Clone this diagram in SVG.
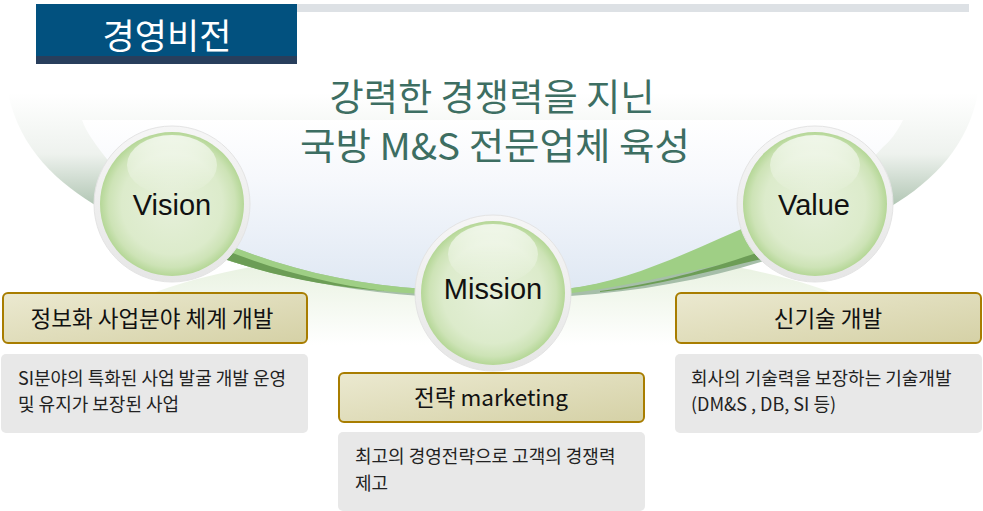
<svg xmlns="http://www.w3.org/2000/svg" width="983" height="511" viewBox="0 0 983 511">
<style>
.kr{font-family:"Noto Sans CJK KR","Noto Sans",sans-serif}
.lat{font-family:"Liberation Sans",Arial,sans-serif}
.ctitle{font-size:29px;fill:#111;text-anchor:middle}
.btitle{font-size:22.5px;fill:#111;text-anchor:middle}
.desc{font-size:18px;fill:#222}
.tbox{fill:url(#gBox);stroke:#a87d00;stroke-width:2}
.dbox{fill:#e8e8e8}
.ring{fill:url(#gRing);stroke:#e4e4e4;stroke-width:1}
.sphere{fill:url(#gSphere)}
.hl{fill:url(#gHl)}
</style>
<defs>
<linearGradient id="gOuter" x1="0" y1="93" x2="0" y2="215" gradientUnits="userSpaceOnUse">
<stop offset="0" stop-color="#ffffff"/>
<stop offset="0.5" stop-color="#eef2ee"/>
<stop offset="1" stop-color="#a6bea9"/>
</linearGradient>
<linearGradient id="gBowl" x1="0" y1="120" x2="0" y2="290" gradientUnits="userSpaceOnUse">
<stop offset="0" stop-color="#ffffff"/>
<stop offset="0.35" stop-color="#f6f8fc"/>
<stop offset="1" stop-color="#dfe8f3"/>
</linearGradient>
<linearGradient id="gGlow" x1="0" y1="250" x2="0" y2="345" gradientUnits="userSpaceOnUse">
<stop offset="0" stop-color="#e5f0dc"/>
<stop offset="1" stop-color="#ffffff"/>
</linearGradient>
<linearGradient id="gBox" x1="0" y1="0" x2="1" y2="1">
<stop offset="0" stop-color="#ebe9d0"/>
<stop offset="1" stop-color="#d5d1a6"/>
</linearGradient>
<linearGradient id="gRing" x1="0" y1="0" x2="0" y2="1">
<stop offset="0" stop-color="#f6f6f6"/>
<stop offset="1" stop-color="#e6e6e6"/>
</linearGradient>
<radialGradient id="gSphere" cx="0.5" cy="0.5" r="0.5">
<stop offset="0" stop-color="#e6f0da"/>
<stop offset="0.7" stop-color="#dcebcb"/>
<stop offset="0.88" stop-color="#cde3b6"/>
<stop offset="1" stop-color="#b5d797"/>
</radialGradient>
<linearGradient id="gHl" x1="0" y1="0" x2="0" y2="1">
<stop offset="0" stop-color="#ffffff" stop-opacity="0.75"/>
<stop offset="1" stop-color="#ffffff" stop-opacity="0"/>
</linearGradient>
</defs>

<rect width="983" height="511" fill="#ffffff"/>

<g id="background">
<path d="M60,345 C140,275 300,248 492,248 C690,248 845,275 925,345 Z" fill="url(#gGlow)"/>
<path d="M8,93 L978,93 C968,145 935,180 890,207 C800,258 690,288 570,296 L420,296 C300,288 180,252 100,208 C58,183 20,150 8,93 Z" fill="url(#gOuter)"/>
<path d="M82,120 L903,120 C896,134 890,141 883,147 C850,185 800,205 760,220 C705,248 640,281 565,289 L425,289 C340,284 260,262 190,228 C150,205 122,182 110,163 C96,145 86,132 82,120 Z" fill="url(#gBowl)"/>
</g>

<g id="connectors">
<path d="M190,228 C260,262 340,284 425,289 L425,294 C340,290 260,275 195,248 Z" fill="#9fcf85"/>
<path d="M195,248 C260,274 320,286 385,291 C320,283 262,266 205,242 Z" fill="#6c9d56"/>
<path d="M565,289 C640,280 700,245 775,215 L775,255 C720,262 650,284 565,294 Z" fill="#9fcf85"/>
<path d="M600,291 C670,282 720,265 775,247 L775,256 C720,268 660,286 600,292 Z" fill="#6c9d56"/>
</g>

<g id="header">
<rect x="296" y="4" width="673" height="8" fill="#dde1e5"/>
<rect x="36" y="4" width="261" height="53" fill="#02517f"/>
<rect x="36" y="56" width="261" height="8" fill="#283e5c"/>
<text x="167" y="49" class="kr" font-size="35" fill="#ffffff" text-anchor="middle">경영비전</text>
</g>

<g id="title">
<text x="492" y="111" class="kr" font-size="37" fill="#3d6e62" text-anchor="middle" textLength="325" lengthAdjust="spacingAndGlyphs">강력한 경쟁력을 지닌</text>
<text x="495" y="160" class="kr" font-size="37" fill="#3d6e62" text-anchor="middle" textLength="390" lengthAdjust="spacingAndGlyphs">국방 M&amp;S 전문업체 육성</text>
</g>

<g id="vision">
<circle cx="172" cy="204" r="78" class="ring"/>
<circle cx="172" cy="204" r="72" class="sphere"/>
<ellipse cx="172" cy="165" rx="45" ry="30" class="hl"/>
<text x="172" y="215" class="lat ctitle">Vision</text>
</g>

<g id="mission">
<circle cx="493" cy="293" r="78" class="ring"/>
<circle cx="493" cy="293" r="72" class="sphere"/>
<ellipse cx="493" cy="254" rx="45" ry="30" class="hl"/>
<text x="493" y="299" class="lat ctitle">Mission</text>
</g>

<g id="value">
<circle cx="815" cy="204" r="78" class="ring"/>
<circle cx="815" cy="204" r="72" class="sphere"/>
<ellipse cx="815" cy="165" rx="45" ry="30" class="hl"/>
<text x="814" y="215" class="lat ctitle">Value</text>
</g>

<g id="box1">
<rect x="3" y="293" width="304" height="50" rx="5" class="tbox"/>
<text x="152" y="327" class="kr btitle">정보화 사업분야 체계 개발</text>
<rect x="1" y="354" width="307" height="79" rx="5" class="dbox"/>
<text x="18" y="385" class="kr desc">SI분야의 특화된 사업 발굴 개발 운영</text>
<text x="18" y="411" class="kr desc">및 유지가 보장된 사업</text>
</g>

<g id="box2">
<rect x="339" y="373" width="305" height="49" rx="5" class="tbox"/>
<text x="491" y="406" class="kr btitle">전략 marketing</text>
<rect x="338" y="432" width="307" height="79" rx="5" class="dbox"/>
<text x="355" y="463" class="kr desc">최고의 경영전략으로 고객의 경쟁력</text>
<text x="355" y="490" class="kr desc">제고</text>
</g>

<g id="box3">
<rect x="676" y="293" width="305" height="50" rx="5" class="tbox"/>
<text x="828" y="327" class="kr btitle">신기술 개발</text>
<rect x="675" y="354" width="307" height="79" rx="5" class="dbox"/>
<text x="691" y="385" class="kr desc">회사의 기술력을 보장하는 기술개발</text>
<text x="691" y="411" class="kr desc">(DM&amp;S , DB, SI 등)</text>
</g>
</svg>
